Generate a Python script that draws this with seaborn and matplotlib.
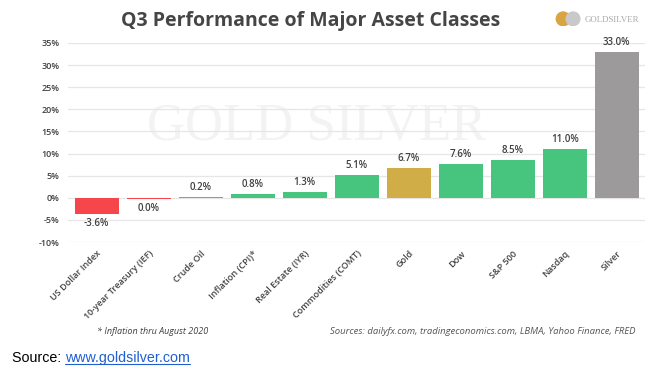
import matplotlib
matplotlib.use("Agg")
import matplotlib.pyplot as plt
import seaborn as sns
import pandas as pd
from matplotlib.patches import Circle

categories = ["US Dollar Index", "10-year Treasury (IEF)", "Crude Oil", "Inflation (CPI)*",
              "Real Estate (IYR)", "Commodities (COMT)", "Gold", "Dow", "S&P 500", "Nasdaq", "Silver"]
values = [-3.6, -0.35, 0.2, 0.8, 1.3, 5.1, 6.7, 7.6, 8.5, 11.0, 33.0]
value_labels = ["-3.6%", "0.0%", "0.2%", "0.8%", "1.3%", "5.1%", "6.7%", "7.6%", "8.5%", "11.0%", "33.0%"]
bar_colors = ["#F5474B", "#F5474B", "#47C57E", "#47C57E", "#47C57E", "#47C57E",
              "#D1AD48", "#47C57E", "#47C57E", "#47C57E", "#9C9A9A"]
y_ticks = [-10, -5, 0, 5, 10, 15, 20, 25, 30, 35]

sns.set_theme(style="white")
plt.rcParams["font.family"] = ["Open Sans", "DejaVu Sans"]

df = pd.DataFrame({"cat": categories, "val": values})

fig = plt.figure(figsize=(6.68, 3.77), dpi=100)
ax = fig.add_axes([0.102, 0.358, 0.864, 0.528])

# faint watermark
ax.text(0.43, 0.58, "GOLD SILVER", transform=ax.transAxes, ha="center", va="center",
        fontsize=38, family="Liberation Serif", color="#F3F3F3", zorder=0)

sns.barplot(data=df, x="cat", y="val", hue="cat", palette=bar_colors, legend=False,
            width=0.84, saturation=1, linewidth=0, ax=ax, zorder=3)

ax.set_ylim(-10, 35)
ax.set_yticks(y_ticks)
ax.set_yticklabels([f"{t}%" for t in y_ticks], fontsize=6.5, color="#404040", fontweight=600)
ax.grid(axis="y", color="#E6E6E6", linewidth=0.9, zorder=0)
ax.set_axisbelow(True)
for s in ax.spines.values():
    s.set_visible(False)
ax.tick_params(axis="both", length=0, pad=6)
ax.set_xlabel("")
ax.set_ylabel("")
ax.set_xlim(-0.55, len(categories) - 0.45)

ax.set_xticks(range(len(categories)))
ax.set_xticklabels(categories, rotation=45, ha="right", rotation_mode="anchor",
                   fontsize=6.5, color="#404040", fontweight=600)
ax.tick_params(axis="x", pad=5)

for i, (v, lab) in enumerate(zip(values, value_labels)):
    if v < 0:
        ax.text(i, v - 0.9, lab, ha="center", va="top", fontsize=7, color="#404040", fontweight=600)
    else:
        ax.text(i, v + 0.9, lab, ha="center", va="bottom", fontsize=7, color="#404040", fontweight=600)

fig.text(0.465, 0.945, "Q3 Performance of Major Asset Classes", ha="center", va="center",
         fontsize=14, fontweight="bold", color="#454545")

# logo
logo_ax = fig.add_axes([0.826, 0.915, 0.05, 0.07])
logo_ax.set_xlim(0, 2.2)
logo_ax.set_ylim(0, 1)
logo_ax.set_aspect("equal")
logo_ax.axis("off")
logo_ax.add_patch(Circle((0.75, 0.5), 0.45, color="#D9A441"))
logo_ax.add_patch(Circle((1.4, 0.5), 0.45, color="#C9C9C9"))
fig.text(0.875, 0.948, "GOLDSILVER", ha="left", va="center", fontsize=6.3,
         family="Liberation Serif", color="#A8A8A8")

fig.text(0.228, 0.12, "* Inflation thru August 2020", ha="center", va="center",
         fontsize=6.5, style="italic", color="#404040")
fig.text(0.952, 0.12, "Sources: dailyfx.com, tradingeconomics.com, LBMA, Yahoo Finance, FRED",
         ha="right", va="center", fontsize=6.8, style="italic", color="#555555")

t1 = fig.text(0.018, 0.05, "Source: ", ha="left", va="center", fontsize=10.3,
              family="Liberation Sans", color="#000000")
fig.canvas.draw()
bb = t1.get_window_extent()
x2 = bb.x1 / fig.bbox.width
t2 = fig.text(x2, 0.05, "www.goldsilver.com", ha="left", va="center", fontsize=10.3,
              family="Liberation Sans", color="#1F5FD0")
fig.canvas.draw()
bb2 = t2.get_window_extent()
fig.add_artist(plt.Line2D([bb2.x0 / fig.bbox.width, bb2.x1 / fig.bbox.width],
                          [(bb2.y0 + 1) / fig.bbox.height] * 2, color="#1F5FD0", linewidth=0.8))

fig.savefig("out.png", dpi=100)
